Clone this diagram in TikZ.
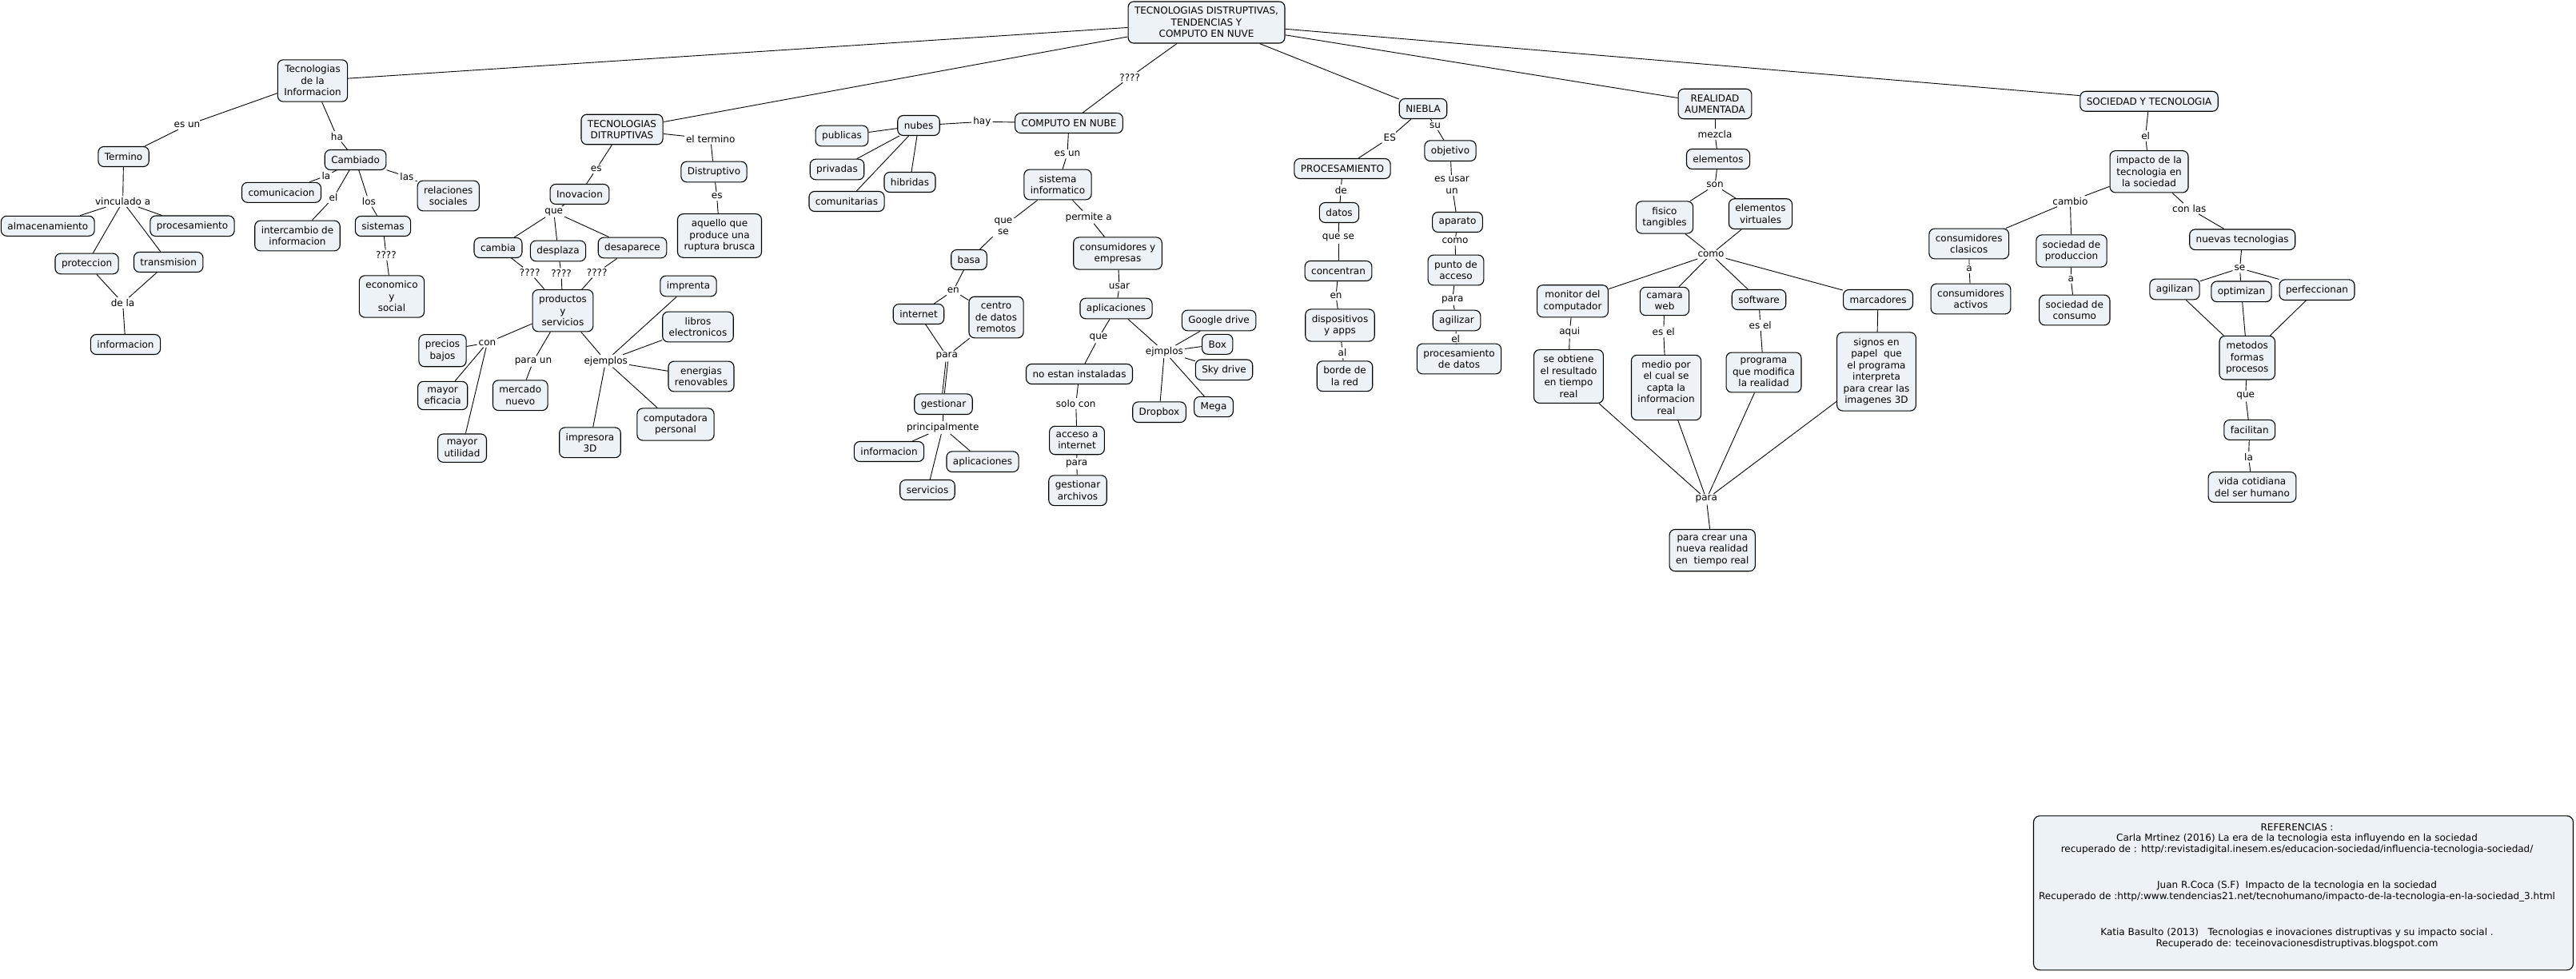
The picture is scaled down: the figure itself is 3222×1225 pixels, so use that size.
\documentclass[tikz,border=0pt]{standalone}
\usepackage{fontspec}
\setmainfont{DejaVu Sans}
\definecolor{nodefill}{RGB}{236,242,245}
\newcommand\fs{\fontsize{12}{14.5}\selectfont}
\newcommand\rfs{\fontsize{12}{13.3}\selectfont}
\begin{document}
\begin{tikzpicture}[x=1pt,y=-1pt,
  c/.style={draw=black, line width=1.1pt, rounded corners=7pt, fill=nodefill, align=center, inner xsep=8pt, inner ysep=7pt, minimum height=25pt, font=\fs},
  lab/.style={inner sep=2pt, align=center, font=\fs},
  ln/.style={line width=0.9pt, draw=black}]
\fill[white] (0,0) rectangle (3222,1225);
\useasboundingbox (0,0) rectangle (3222,1225);

% ---------- concepts ----------
\node[c] (top) at (1509,28) {TECNOLOGIAS DISTRUPTIVAS,\\TENDENCIAS Y\\COMPUTO EN NUVE};
\node[c] (tecinfo) at (391,101) {Tecnologias\\de la\\Informacion};
\node[c] (termino) at (154.6,196) {Termino};
\node[c] (cambiado) at (444.6,200) {Cambiado};
\node[c] (almac) at (59.8,282.8) {almacenamiento};
\node[c] (proces) at (240.5,282.8) {procesamiento};
\node[c] (protec) at (108.6,330) {proteccion};
\node[c] (transm) at (210.7,328) {transmision};
\node[c] (infoL) at (157,431) {informacion};
\node[c] (comunic) at (352,240.8) {comunicacion};
\node[c] (interc) at (372,295) {intercambio de\\informacion};
\node[c] (sistemas) at (479,283) {sistemas};
\node[c] (econ) at (490,371) {economico\\y\\social};
\node[c] (relac) at (560.8,245) {relaciones\\sociales};

\node[c] (tecdit) at (778,162) {TECNOLOGIAS\\DITRUPTIVAS};
\node[c] (inov) at (725,243) {Inovacion};
\node[c] (cambia) at (623,310) {cambia};
\node[c] (despl) at (698,314) {desplaza};
\node[c] (desap) at (791,310) {desaparece};
\node[c] (distr) at (893,215) {Distruptivo};
\node[c] (aquello) at (900,295) {aquello que\\produce una\\ruptura brusca};
\node[c] (prod) at (704,388.7) {productos\\y\\servicios};
\node[c] (precios) at (553.5,438.7) {precios\\bajos};
\node[c] (eficacia) at (553.7,495) {mayor\\eficacia};
\node[c] (utilidad) at (578,560.7) {mayor\\utilidad};
\node[c] (mercado) at (650.8,494.7) {mercado\\nuevo};
\node[c] (imprenta) at (861,358) {imprenta};
\node[c] (libros) at (873,409) {libros\\electronicos};
\node[c] (energias) at (877,471) {energias\\renovables};
\node[c] (computadora) at (845,531) {computadora\\personal};
\node[c] (impresora) at (738,553.8) {impresora\\3D};

\node[c] (computo) at (1337,154) {COMPUTO EN NUBE};
\node[c] (nubes) at (1149,157) {nubes};
\node[c] (publicas) at (1053,170) {publicas};
\node[c] (privadas) at (1047,212) {privadas};
\node[c] (hibridas) at (1138,228) {hibridas};
\node[c] (comunit) at (1059,252) {comunitarias};
\node[c] (sisinf) at (1323,231) {sistema\\informatico};
\node[c] (basa) at (1212,325) {basa};
\node[c] (consum) at (1398,317) {consumidores y\\empresas};
\node[c] (internet) at (1149,393) {internet};
\node[c] (centro) at (1246,397) {centro\\de datos\\remotos};
\node[c] (gestionar) at (1180,505.7) {gestionar};
\node[c] (infoM) at (1112,565) {informacion};
\node[c] (aplicL) at (1229,577.7) {aplicaciones};
\node[c] (servicios) at (1160,613) {servicios};
\node[c] (aplicR) at (1396,386) {aplicaciones};
\node[c] (noestan) at (1350,468) {no estan instaladas};
\node[c] (acceso) at (1347,551) {acceso a\\internet};
\node[c] (gestarch) at (1348,613.7) {gestionar\\archivos};
\node[c] (google) at (1524.6,401) {Google drive};
\node[c] (box) at (1522.7,430.8) {Box};
\node[c] (sky) at (1531,462.8) {Sky drive};
\node[c] (mega) at (1518,509) {Mega};
\node[c] (dropbox) at (1450,515.7) {Dropbox};

\node[c] (niebla) at (1780,136) {NIEBLA};
\node[c] (procesam) at (1679,211) {PROCESAMIENTO};
\node[c] (objetivo) at (1814,188.7) {objetivo};
\node[c] (datos) at (1675,266) {datos};
\node[c] (concentran) at (1674,339) {concentran};
\node[c] (dispos) at (1676,407) {dispositivos\\y apps};
\node[c] (borde) at (1682,470.7) {borde de\\la red};
\node[c] (aparato) at (1823,278) {aparato};
\node[c] (punto) at (1821,338) {punto de\\acceso};
\node[c] (agilizar) at (1822,401) {agilizar};
\node[c] (procdatos) at (1825,449) {procesamiento\\de datos};

\node[c] (ra) at (2145,130) {REALIDAD\\AUMENTADA};
\node[c] (elementos) at (2149,199) {elementos};
\node[c] (fisico) at (2082,272) {fisico\\tangibles};
\node[c] (virtuales) at (2202,267.6) {elementos\\virtuales};
\node[c] (monitor) at (1967,376.8) {monitor del\\computador};
\node[c] (camara) at (2082,377) {camara\\web};
\node[c] (software) at (2200,375) {software};
\node[c] (marcadores) at (2349,375) {marcadores};
\node[c] (seobtiene) at (1962,471) {se obtiene\\el resultado\\en tiempo\\real};
\node[c] (medio) at (2084,485) {medio por\\el cual se\\capta la\\informacion\\real};
\node[c] (programa) at (2206,466) {programa\\que modifica\\la realidad};
\node[c] (signos) at (2347,465) {signos en\\papel\ \ que\\el programa\\interpreta\\para crear las\\imagenes 3D};
\node[c] (paracrear) at (2141.7,688.6) {para crear una\\nueva realidad\\en\ \ tiempo real};

\node[c] (syt) at (2688,126.8) {SOCIEDAD Y TECNOLOGIA};
\node[c] (impacto) at (2688,214.8) {impacto de la\\tecnologia en\\la sociedad};
\node[c] (consclas) at (2462.7,305) {consumidores\\clasicos};
\node[c] (consact) at (2465,374) {consumidores\\activos};
\node[c] (socprod) at (2591,314) {sociedad de\\produccion};
\node[c] (soccons) at (2594.8,388) {sociedad de\\consumo};
\node[c] (nuevas) at (2804.7,299.8) {nuevas tecnologias};
\node[c] (agilizan) at (2720,362) {agilizan};
\node[c] (optimizan) at (2803.5,364.8) {optimizan};
\node[c] (perfecc) at (2898,362.7) {perfeccionan};
\node[c] (metodos) at (2810.7,447.7) {metodos\\formas\\procesos};
\node[c] (facilitan) at (2813.7,537.9) {facilitan};
\node[c] (vida) at (2817,609.5) {vida cotidiana\\del ser humano};

% ---------- linking phrases ----------
\node[lab] (esun1) at (234,156.7) {es un};
\node[lab] (ha) at (421.4,170.7) {ha};
\node[lab] (vinc) at (153.6,252.3) {vinculado a};
\node[lab] (dela) at (153.6,379) {de la};
\node[lab] (la1) at (407.9,220) {la};
\node[lab] (el1) at (417.1,247.3) {el};
\node[lab] (los) at (461.4,252) {los};
\node[lab] (las) at (508.9,221) {las};
\node[lab] (q1) at (482.9,319) {????};

\node[lab] (es2) at (745.7,211.7) {es};
\node[lab] (eltermino) at (888.7,173.7) {el termino};
\node[lab] (es3) at (896.7,245.7) {es};
\node[lab] (que1) at (692.7,265) {que};
\node[lab] (q2) at (662.7,341) {????};
\node[lab] (q3) at (702,342) {????};
\node[lab] (q4) at (746.7,341) {????};
\node[lab] (con) at (609.5,429) {con};
\node[lab] (paraun) at (667,452) {para un};
\node[lab] (ejemplos) at (757.7,451.7) {ejemplos};

\node[lab] (q5) at (1413.2,96.7) {????};
\node[lab] (hay) at (1228.3,152.3) {hay};
\node[lab] (esun2) at (1335,192.7) {es un};
\node[lab] (quese1) at (1255,283.3) {que\\se};
\node[lab] (permitea) at (1361.7,271.7) {permite a};
\node[lab] (en1) at (1192.3,363.7) {en};
\node[lab] (para1) at (1184.3,445.7) {para};
\node[lab] (principalmente) at (1179.3,535) {principalmente};
\node[lab] (usar) at (1400,358.7) {usar};
\node[lab] (que2) at (1374,422.7) {que};
\node[lab] (soloc) at (1345.7,505) {solo con};
\node[lab] (para2) at (1346.7,580) {para};
\node[lab] (ejmplos) at (1456.4,440) {ejmplos};

\node[lab] (esN) at (1738.3,172.3) {ES};
\node[lab] (su) at (1795,157.3) {su};
\node[lab] (de) at (1677.3,237.7) {de};
\node[lab] (quese2) at (1674,297.7) {que se};
\node[lab] (en2) at (1671,370.3) {en};
\node[lab] (al) at (1679,441.3) {al};
\node[lab] (esusar) at (1816,231.7) {es usar\\un};
\node[lab] (como1) at (1820,301.7) {como};
\node[lab] (para3) at (1816.7,375) {para};
\node[lab] (el2) at (1820.7,424.3) {el};

\node[lab] (mezcla) at (2145,168) {mezcla};
\node[lab] (son) at (2145,231.7) {son};
\node[lab] (como2) at (2140,318.3) {como};
\node[lab] (aqui) at (1963.3,415.5) {aqui};
\node[lab] (esel1) at (2080.7,415.5) {es el};
\node[lab] (esel2) at (2201.7,406.8) {es el};
\node[lab] (para4) at (2134.3,624.7) {para};

\node[lab] (el3) at (2683.6,170) {el};
\node[lab] (cambio) at (2589.4,251.8) {cambio};
\node[lab] (conlas) at (2738.3,261) {con las};
\node[lab] (a1) at (2463.1,336.4) {a};
\node[lab] (a2) at (2590.2,349) {a};
\node[lab] (se) at (2801.5,335.7) {se};
\node[lab] (que3) at (2808.7,495.7) {que};
\node[lab] (la2) at (2812.5,571.8) {la};

% ---------- connectors ----------
\foreach \a/\b in {top/tecinfo, top/tecdit, top/q5, q5/computo, top/niebla, top/ra, top/syt,
  tecinfo/esun1, esun1/termino, tecinfo/ha, ha/cambiado,
  termino/vinc, vinc/almac, vinc/proces, vinc/protec, vinc/transm,
  protec/dela, transm/dela, dela/infoL,
  cambiado/la1, la1/comunic, cambiado/el1, el1/interc, cambiado/los, los/sistemas, cambiado/las, las/relac,
  sistemas/q1, q1/econ,
  tecdit/es2, es2/inov, tecdit/eltermino, eltermino/distr, distr/es3, es3/aquello,
  inov/que1, que1/cambia, que1/despl, que1/desap,
  cambia/q2, q2/prod, despl/q3, q3/prod, desap/q4, q4/prod,
  prod/con, con/precios, con/eficacia, con/utilidad,
  prod/paraun, paraun/mercado,
  prod/ejemplos, ejemplos/imprenta, ejemplos/libros, ejemplos/energias, ejemplos/computadora, ejemplos/impresora,
  computo/hay, hay/nubes, nubes/publicas, nubes/privadas, nubes/hibridas, nubes/comunit,
  computo/esun2, esun2/sisinf, sisinf/quese1, quese1/basa, basa/en1, en1/internet, en1/centro,
  internet/para1, centro/para1,
  gestionar/principalmente, principalmente/infoM, principalmente/aplicL, principalmente/servicios,
  sisinf/permitea, permitea/consum, consum/usar, usar/aplicR, aplicR/que2, que2/noestan, noestan/soloc, soloc/acceso, acceso/para2, para2/gestarch,
  aplicR/ejmplos, ejmplos/google, ejmplos/box, ejmplos/sky, ejmplos/mega, ejmplos/dropbox,
  niebla/esN, esN/procesam, procesam/de, de/datos, datos/quese2, quese2/concentran, concentran/en2, en2/dispos, dispos/al, al/borde,
  niebla/su, su/objetivo, objetivo/esusar, esusar/aparato, aparato/como1, como1/punto, punto/para3, para3/agilizar, agilizar/el2, el2/procdatos,
  ra/mezcla, mezcla/elementos, elementos/son, son/fisico, son/virtuales, fisico/como2, virtuales/como2,
  como2/monitor, como2/camara, como2/software, como2/marcadores,
  monitor/aqui, aqui/seobtiene, camara/esel1, esel1/medio, software/esel2, esel2/programa, marcadores/signos,
  seobtiene/para4, medio/para4, programa/para4, signos/para4, para4/paracrear,
  syt/el3, el3/impacto, impacto/cambio, cambio/consclas, cambio/socprod, consclas/a1, a1/consact, socprod/a2, a2/soccons,
  impacto/conlas, conlas/nuevas, nuevas/se, se/agilizan, se/optimizan, se/perfecc,
  agilizan/metodos, optimizan/metodos, perfecc/metodos, metodos/que3, que3/facilitan, facilitan/la2, la2/vida}
  \draw[ln] (\a) -- (\b);
\draw[ln] ([xshift=-1.3pt]para1.south) -- ([xshift=-1.3pt]gestionar.north);
\draw[ln] ([xshift=1.3pt]para1.south) -- ([xshift=1.3pt]gestionar.north);

% ---------- references ----------
\node[draw=black, line width=1.1pt, rounded corners=8pt, fill=nodefill, minimum width=675pt, minimum height=193pt, inner sep=0pt] (refs) at (2881,1117.3) {};
\node[align=center, font=\rfs, inner sep=0pt] (reftext) at (2873,1108.5) {REFERENCIAS :\\
Carla Mrtinez (2016) La era de la tecnologia esta influyendo en la sociedad\\
recuperado de : http/:revistadigital.inesem.es/educacion-sociedad/influencia-tecnologia-sociedad/\\[32.4pt]
Juan R.Coca (S.F)\ \ Impacto de la tecnologia en la sociedad\\
Recuperado de :http/:www.tendencias21.net/tecnohumano/impacto-de-la-tecnologia-en-la-sociedad\_3.html\\[32.4pt]
Katia Basulto (2013)\ \ \ Tecnologias e inovaciones distruptivas y su impacto social .\\
Recuperado de: teceinovacionesdistruptivas.blogspot.com};
\end{tikzpicture}
\end{document}
